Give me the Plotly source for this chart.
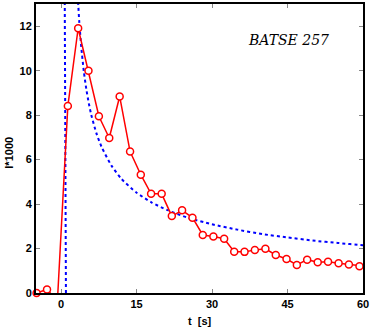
import plotly.graph_objects as go

# Observed light curve (t in s, I*1000)
t_obs = [-4.88, -2.81, -0.74, 1.33, 3.38, 5.43, 7.50, 9.56, 11.63, 13.70,
         15.83, 17.88, 19.98, 22.00, 24.04, 26.10, 28.15, 30.26, 32.40, 34.40,
         36.45, 38.50, 40.60, 42.66, 44.80, 46.85, 48.90, 51.00, 53.05, 55.15,
         57.20, 59.30, 61.40]
i_obs = [0.00, 0.16, -0.35, 8.41, 11.91, 10.00, 7.95, 6.97, 8.84, 6.36,
         5.32, 4.46, 4.46, 3.46, 3.72, 3.39, 2.61, 2.54, 2.44, 1.86,
         1.85, 1.93, 1.99, 1.71, 1.53, 1.26, 1.50, 1.38, 1.41, 1.34,
         1.28, 1.20, 1.18]

# Model curve (blue dotted)
t_mod = [0.95, 0.70, None, 3.20, 3.40, 3.60, 4.00, 4.50, 5.00, 5.50, 6.00, 7.00,
         8.00, 10.0, 12.0, 15.0, 18.0, 21.0, 25.0, 30.0, 35.0, 40.0,
         45.0, 50.0, 55.0, 60.0, 61.0]
i_mod = [0.00, 14.0, None, 13.9, 12.97, 12.2, 11.06, 9.98, 9.17, 8.53, 8.00, 7.19,
         6.59, 5.73, 5.13, 4.51, 4.07, 3.74, 3.40, 3.09, 2.85, 2.65,
         2.50, 2.36, 2.25, 2.15, 2.13]

x_ticks = [0, 15, 30, 45, 60]
y_ticks = [0, 2, 4, 6, 8, 10, 12]

RED = "#ff0000"
BLUE = "#0000ff"

fig = go.Figure()
fig.add_trace(go.Scatter(x=t_mod, y=i_mod, mode="lines", connectgaps=False,
                         line=dict(color=BLUE, width=2, dash="dot", shape="spline", smoothing=0.6),
                         hoverinfo="skip"))
fig.add_trace(go.Scatter(x=t_obs, y=i_obs, mode="lines",
                         line=dict(color=RED, width=1.5)))
vis = [(t, v) for t, v in zip(t_obs, i_obs) if v >= 0 and t <= 60]
fig.add_trace(go.Scatter(x=[p[0] for p in vis], y=[p[1] for p in vis], mode="markers",
                         cliponaxis=False,
                         marker=dict(symbol="circle", size=7, color="white",
                                     line=dict(color=RED, width=1.5))))

tickfont = dict(family="Liberation Sans, Arial, sans-serif", size=11, color="black")
axis_common = dict(showline=True, linecolor="black", linewidth=2, mirror="ticks",
                   ticks="inside", ticklen=4, tickwidth=1, tickcolor="#888888",
                   showgrid=False, zeroline=False, tickfont=tickfont)

fig.update_layout(
    width=373, height=327,
    margin=dict(l=36, r=10, t=2, b=34),
    paper_bgcolor="white", plot_bgcolor="white",
    showlegend=False,
    xaxis=dict(range=[-5, 60], tickvals=x_ticks, ticktext=[f"<b>{v}</b>" for v in x_ticks], **axis_common),
    yaxis=dict(range=[0, 13], tickvals=y_ticks, ticktext=[f"<b>{v}</b>" for v in y_ticks], **axis_common),
    annotations=[
        dict(text="<b>t  [s]</b>", xref="paper", yref="paper", x=0.5, y=-0.098,
             xanchor="center", yanchor="middle", showarrow=False,
             font=dict(family="Liberation Sans, Arial, sans-serif", size=11, color="black")),
        dict(text="<b>I*1000</b>", xref="paper", yref="paper", x=-0.083, y=0.485,
             xanchor="center", yanchor="middle", showarrow=False, textangle=-90,
             font=dict(family="Liberation Sans, Arial, sans-serif", size=11, color="black")),
        dict(text="<i>BATSE 257</i>", xref="paper", yref="paper", x=0.772, y=0.876,
             xanchor="center", yanchor="middle", showarrow=False,
             font=dict(family="DejaVu Serif", size=14, color="black")),
    ],
)

fig.write_html("out.html", config={"displayModeBar": False},
               post_script="document.body.style.margin='0';document.body.style.padding='0';")
